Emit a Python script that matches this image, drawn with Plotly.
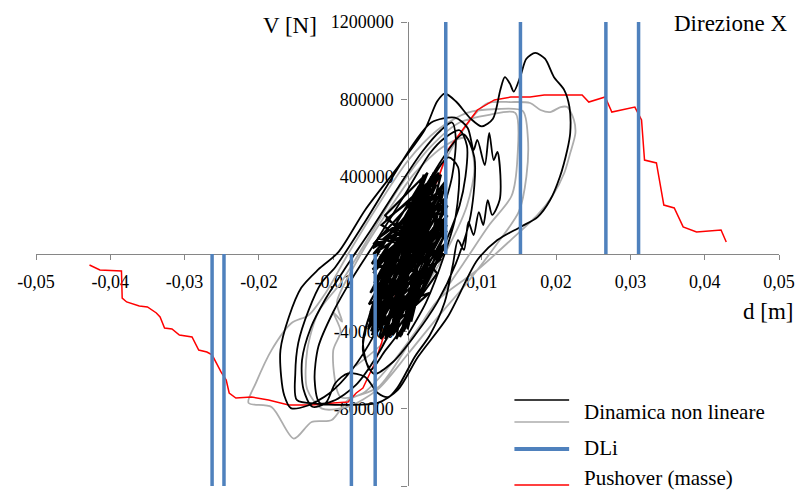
import plotly.graph_objects as go

# ---------------- data ----------------
x_tick_vals = [-0.05, -0.04, -0.03, -0.02, -0.01, 0.01, 0.02, 0.03, 0.04, 0.05]
x_tick_text = ["-0,05", "-0,04", "-0,03", "-0,02", "-0,01", "0,01", "0,02", "0,03", "0,04", "0,05"]
y_tick_vals = [1200000, 800000, 400000, -400000, -800000, -1200000]
y_tick_text = ["1200000", "800000", "400000", "-400000", "-800000", "-1200000"]

# DLi vertical limits (d [m]) and their extent in V [N]
dli_x = [-0.0263, -0.0247, -0.00755, -0.00435, 0.00515, 0.0152, 0.0267, 0.0311]
dli_end = [-1200000, -1200000, -1200000, -1200000, 1200000, 1200000, 1200000, 1200000]

# Pushover (masse)
push_x = [-0.0428, -0.0414, -0.0385, -0.0384, -0.0378, -0.0361, -0.0350, -0.0338, -0.0333,
          -0.0327, -0.0317, -0.0307, -0.0290, -0.0281, -0.0270, -0.0263, -0.0251, -0.0244,
          -0.0240, -0.0231, -0.0210, -0.0187, -0.0160, -0.0129, -0.0100, -0.0080, -0.0069,
          -0.0060, -0.0044, -0.0035, 0.0, 0.0027, 0.0041, 0.0054, 0.0077, 0.0094, 0.0117,
          0.0139, 0.0165, 0.0184, 0.0211, 0.0235, 0.0244, 0.0266, 0.0275, 0.0306, 0.0315,
          0.0319, 0.0335, 0.0345, 0.0359, 0.0371, 0.0389, 0.0422, 0.0429]
push_y = [-57000, -83000, -88000, -228000, -248000, -269000, -274000, -305000, -326000,
          -383000, -388000, -419000, -429000, -497000, -507000, -522000, -610000, -652000,
          -719000, -745000, -740000, -755000, -781000, -781000, -771000, -766000, -719000,
          -693000, -564000, -460000, 0, 295000, 383000, 538000, 657000, 745000, 797000,
          812000, 812000, 822000, 822000, 822000, 786000, 812000, 734000, 760000, 693000,
          486000, 471000, 253000, 238000, 140000, 114000, 124000, 62000]

# Dinamica non lineare - black record (large cycles)
black_x = [0.0, -0.0020, -0.0045, -0.0075, -0.0105, -0.0135, -0.0157,
           -0.0166, -0.0170, -0.0171, -0.0160, -0.0143, -0.0120, -0.0093, -0.0057, -0.0013, 0.0023, 0.0040, 0.0050,
           0.0065, 0.0085, 0.0100, 0.0115, 0.0125, 0.0131, 0.0138, 0.0143, 0.0152, 0.0160, 0.0172,
           0.0185, 0.0197, 0.0211, 0.0218, 0.0219, 0.0215, 0.0205, 0.0192, 0.0175, 0.0152, 0.0121, 0.0094,
           0.0054, 0.0014, -0.0013, -0.0040, -0.0080, -0.0120, -0.0149,
           -0.0151, -0.0147, -0.0133, -0.0116, -0.0097, -0.0060, -0.0020, 0.0010, 0.0032, 0.0064,
           0.0081, 0.0089, 0.0094, 0.0104, 0.0110, 0.0116, 0.0121, 0.0125, 0.0124, 0.0114, 0.0108, 0.0102,
           0.0096, 0.0089, 0.0082, 0.0076, 0.0068, 0.0061,
           0.0050, 0.0030, 0.0010, -0.0013, -0.0026, -0.0040, -0.0057, -0.0080, -0.0097, -0.0110, -0.0128,
           -0.0140, -0.0142, -0.0130, -0.0110, -0.0085, -0.0050, -0.0015, 0.0020, 0.0045, 0.0060,
           0.0065, 0.0060, 0.0045, 0.0020, -0.0010, -0.0040, -0.0070, -0.0100, -0.0118,
           -0.0125, -0.0120, -0.0100, -0.0075, -0.0040, 0.0000, 0.0030, 0.0050, 0.0070,
           0.0080, 0.0078, 0.0070, 0.0050, 0.0020, -0.0010, -0.0030,
           -0.0050, -0.0060, -0.0040, 0.0000, 0.0040, 0.0075, 0.0090, 0.0085, 0.0065, 0.0040,
           0.0010, -0.0020, -0.0045, -0.0060, -0.0050, -0.0020, 0.0020, 0.0055, 0.0068, 0.0065,
           0.0050, 0.0025, 0.0000]
black_y = [0, -200000, -420000, -600000, -720000, -785000, -797000,
           -730000, -636000, -497000, -330000, -175000, -80000, 10000, 228000, 450000, 641000, 790000, 830000,
           790000, 700000, 660000, 700000, 850000, 915000, 880000, 840000, 920000, 1010000, 1040000,
           1010000, 916000, 848000, 760000, 626000, 538000, 398000, 279000, 191000, 140000, 72000, -31000,
           -326000, -533000, -703000, -770000, -780000, -775000, -755000,
           -616000, -460000, -290000, -150000, -67000, 150000, 400000, 580000, 680000, 705000,
           652000, 538000, 590000, 460000, 626000, 486000, 528000, 409000, 279000, 202000, 279000, 150000,
           217000, 98000, 166000, 21000, 72000, -57000,
           -250000, -420000, -530000, -688000, -740000, -719000, -636000, -617000, -667000, -770000, -790000,
           -700000, -550000, -380000, -230000, -80000, 120000, 330000, 530000, 640000, 680000,
           600000, 400000, 200000, -50000, -300000, -520000, -680000, -760000, -770000,
           -650000, -480000, -300000, -130000, 80000, 330000, 520000, 600000, 640000,
           560000, 400000, 250000, 50000, -200000, -400000, -500000,
           -600000, -450000, -200000, 150000, 450000, 620000, 500000, 200000, -50000, -250000,
           -420000, -560000, -620000, -500000, -300000, 0, 300000, 500000, 450000, 200000,
           0, -250000, -420000]

# Dinamica non lineare - black record (small cycles, dense core)
core_x = [0.0, 0.0035, -0.0053, 0.0054, -0.0046, 0.0045, -0.0010, 0.0050, -0.0044, 0.0023,
          -0.0030, 0.0053, -0.0050, 0.0040, -0.0040, 0.0048, -0.0045, 0.0030, 0.0000, 0.0052,
          -0.0046, 0.0012, -0.0020, 0.0040, -0.0030, 0.0027, -0.0052, 0.0054, -0.0045, 0.0038,
          -0.0005, 0.0050, -0.0048, 0.0020, -0.0038, 0.0030, -0.0040, 0.0046, -0.0025, 0.0051,
          -0.0049, 0.0015, -0.0015, 0.0049, -0.0042, 0.0032, -0.0053, 0.0044, -0.0035, 0.0042,
          -0.0025, 0.0053, -0.0046, 0.0025, 0.0005, 0.0050, -0.0047, 0.0036, -0.0033, 0.0047,
          -0.0050, 0.0029, -0.0010, 0.0052, -0.0043, 0.0039, -0.0038, 0.0045, -0.0048, 0.0020,
          -0.0020, 0.0048, -0.0044, 0.0034, -0.0051, 0.0018, -0.0008, 0.0053, -0.0045, 0.0030,
          -0.0036, 0.0046, -0.0028, 0.0041, -0.0052, 0.0026, -0.0040, 0.0050, -0.0046, 0.0033,
          -0.0018, 0.0051, -0.0049, 0.0022, -0.0042, 0.0043, -0.0032, 0.0049, -0.0047, 0.0010]
core_y = [0, 420000, -390000, 250000, 0, 410000, -430000, 50000, -240000, 400000,
          -440000, 150000, -300000, 300000, 80000, 0, -420000, 350000, -390000, 380000,
          -100000, 300000, -420000, -100000, 200000, 420000, -350000, 200000, -180000, 410000,
          -400000, 100000, -50000, 380000, -430000, -200000, -300000, 330000, 100000, 280000,
          -400000, 350000, -440000, 30000, -130000, 400000, -380000, -30000, 150000, 420000,
          -430000, 120000, -260000, 330000, -350000, 350000, 30000, 220000, -410000, 180000,
          -200000, 380000, -300000, 60000, -350000, 360000, -20000, 250000, -420000, 280000,
          -350000, 120000, -60000, 410000, -320000, 100000, -420000, 300000, -150000, 300000,
          -440000, -10000, 180000, 390000, -260000, -100000, -380000, 220000, 50000, 380000,
          -400000, 170000, -360000, 410000, -200000, 80000, -300000, 330000, -80000, 0]

# Dinamica non lineare - grey record
grey_x = [0.0, 0.0030, 0.0060, 0.0090, 0.0108, 0.0139, 0.0165, 0.0179, 0.0192, 0.0206, 0.0215,
          0.0224, 0.0226, 0.0219, 0.0211, 0.0195, 0.0175, 0.0139, 0.0094, 0.0041, 0.0005,
          -0.0039, -0.0080, -0.0102, -0.0129, -0.0153, -0.0183, -0.0214, -0.0204, -0.0183,
          -0.0156, -0.0133, -0.0110, -0.0080, -0.0040, 0.0000, 0.0040, 0.0080, 0.0120, 0.0155,
          0.0162, 0.0160, 0.0150, 0.0120, 0.0080, 0.0040, 0.0000, -0.0040, -0.0080, -0.0115,
          -0.0135, -0.0135, -0.0120, -0.0090, -0.0050, -0.0010, 0.0030, 0.0070, 0.0110, 0.0145,
          0.0148, 0.0140, 0.0110, 0.0075, 0.0030, -0.0020, -0.0060, -0.0090, -0.0100, -0.0090,
          -0.0100, -0.0088, -0.0095, -0.0070, -0.0030, 0.0010, 0.0050, 0.0080, 0.0090, 0.0080,
          0.0050, 0.0010, -0.0030, -0.0070]
grey_y = [0, 300000, 550000, 720000, 781000, 786000, 781000, 745000, 734000, 760000, 760000,
          693000, 626000, 522000, 419000, 300000, 202000, 72000, -83000, -238000, -445000,
          -688000, -755000, -859000, -869000, -955000, -791000, -770000, -667000, -497000,
          -357000, -316000, -200000, 0, 250000, 480000, 640000, 730000, 750000, 740000,
          600000, 400000, 220000, 50000, -150000, -330000, -520000, -700000, -790000, -800000,
          -700000, -500000, -300000, -150000, 100000, 350000, 550000, 680000, 720000, 730000,
          500000, 300000, 150000, -50000, -300000, -560000, -720000, -740000, -500000, -400000,
          -300000, -350000, -250000, -50000, 200000, 420000, 560000, 600000, 450000, 250000,
          0, -250000, -450000, -580000]

# ---------------- figure ----------------
W, H = 802, 493
ML, MR, MT, MB = 36, 19, 22, 7
PW, PH = W - ML - MR, H - MT - MB


def pxx(p):
    return (p - ML) / PW


def pxy(p):
    return (H - MB - p) / PH


SERIF = "Liberation Serif, Times New Roman, serif"
AXIS_GREY = "#868686"
BLUE = "#4f81bd"

fig = go.Figure()

fig.add_trace(go.Scatter(x=grey_x, y=grey_y, mode="lines",
                         line=dict(color="#adadad", width=1.8, shape="spline", smoothing=0.8),
                         hoverinfo="skip", showlegend=False))
fig.add_trace(go.Scatter(x=push_x, y=push_y, mode="lines",
                         line=dict(color="#ff0000", width=1.5),
                         hoverinfo="skip", showlegend=False))
fig.add_trace(go.Scatter(x=core_x, y=core_y, mode="lines",
                         line=dict(color="#000000", width=2.2),
                         hoverinfo="skip", showlegend=False))
fig.add_trace(go.Scatter(x=black_x, y=black_y, mode="lines",
                         line=dict(color="#000000", width=1.8, shape="spline", smoothing=0.8),
                         hoverinfo="skip", showlegend=False))

dx, dy = [], []
for xv, ye in zip(dli_x, dli_end):
    dx += [xv, xv, None]
    dy += [0, ye, None]
fig.add_trace(go.Scatter(x=dx, y=dy, mode="lines",
                         line=dict(color=BLUE, width=3.5),
                         hoverinfo="skip", showlegend=False, cliponaxis=False))

# legend drawn manually (two line samples for the first entry)
leg_x0, leg_x1 = pxx(517), pxx(572)
for yy, col, wd in [(400, "#000000", 1.5), (422, "#adadad", 1.5), (449, BLUE, 4), (485, "#ff0000", 1.5)]:
    fig.add_shape(type="line", xref="paper", yref="paper", x0=leg_x0, x1=leg_x1,
                  y0=pxy(yy), y1=pxy(yy), line=dict(color=col, width=wd))

annots = [
    ("Dinamica non lineare", 585, 412, "left", 21),
    ("DLi", 585, 448, "left", 21),
    ("Pushover (masse)", 585, 478, "left", 21),
    ("V [N]", 321, 26, "right", 23),
    ("Direzione X", 793, 24, "right", 23),
    ("d [m]", 799, 311, "right", 23),
]
for txt, ax_, ay_, anc, fs in annots:
    fig.add_annotation(text=txt, xref="paper", yref="paper", x=pxx(ax_), y=pxy(ay_),
                       xanchor=anc, yanchor="middle", showarrow=False,
                       font=dict(family=SERIF, size=fs, color="#000000"))

fig.update_layout(
    width=W, height=H,
    margin=dict(l=ML, r=MR, t=MT, b=MB, pad=0),
    paper_bgcolor="white", plot_bgcolor="white",
    showlegend=False,
    xaxis=dict(range=[-0.05, 0.05], tickvals=x_tick_vals, ticktext=x_tick_text,
               anchor="free", position=0.5, showline=True, linecolor=AXIS_GREY, linewidth=1.2,
               ticks="outside", ticklen=5, tickcolor=AXIS_GREY, tickwidth=1.2,
               showgrid=False, zeroline=False, layer="below traces",
               ticklabelstandoff=6,
               tickfont=dict(family=SERIF, size=18, color="#000000")),
    yaxis=dict(range=[-1200000, 1200000], tickvals=y_tick_vals, ticktext=y_tick_text,
               anchor="free", position=0.5, showline=True, linecolor=AXIS_GREY, linewidth=1.2,
               ticks="outside", ticklen=6, tickcolor=AXIS_GREY, tickwidth=1.2,
               showgrid=False, zeroline=False, layer="below traces",
               ticklabelstandoff=4,
               tickfont=dict(family=SERIF, size=18, color="#000000")),
)

fig.write_html("out.html")
